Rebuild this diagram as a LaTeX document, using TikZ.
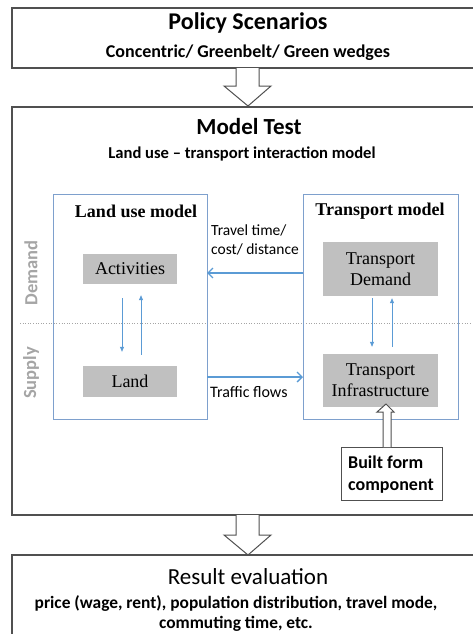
\documentclass[tikz,border=0pt]{standalone}
\usepackage{fontspec}
\setmainfont{Carlito}
\newfontfamily\tnr{Liberation Serif}
\usetikzlibrary{arrows.meta,calc}
\definecolor{boxline}{RGB}{80,80,80}
\definecolor{modelblue}{RGB}{126,160,205}
\definecolor{arrowblue}{RGB}{91,155,213}
\definecolor{graybox}{RGB}{192,192,192}
\definecolor{sidegray}{RGB}{165,165,165}
\tikzset{
  frame/.style={draw=boxline,line width=1.2pt},
  modelbox/.style={draw=modelblue,line width=1pt},
  greybox/.style={fill=graybox,draw=none,inner sep=0pt,align=center,font=\tnr\fontsize{18}{21}\selectfont},
  bigarr/.style={draw=arrowblue,line width=1.6pt,-{Straight Barb[length=5pt,width=10pt,line width=1.4pt]}},
  smallarr/.style={draw=arrowblue,line width=0.7pt,-{Triangle[length=5pt,width=4pt]}},
  hollow/.style={draw=boxline,fill=white,line width=1pt,line join=miter},
  txt/.style={inner sep=0pt,anchor=base},
}
\begin{document}
\begin{tikzpicture}[x=1pt,y=-1pt]
\useasboundingbox (0,0) rectangle (472,634);
% outer frames
\draw[frame] (12,8) rectangle (482,68);
\node[txt] (pt) at (248,30) {\fontsize{24}{28}\selectfont\bfseries Policy Scenarios};
\node[txt] (ps) at (248,57) {\fontsize{18}{21}\selectfont\bfseries Concentric/ Greenbelt/ Green wedges};

\draw[frame] (12,107) rectangle (482,515);
\node[txt] (mt) at (249,134) {\fontsize{23}{27}\selectfont\bfseries Model Test};
\node[txt] (ms) at (242,158) {\fontsize{16.6}{20}\selectfont\bfseries Land use -- transport interaction model};

\draw[frame] (12,555) rectangle (482,650);
\node[txt] (rt) at (248,584) {\fontsize{23}{27}\selectfont Result evaluation};
\node[txt] (r1) at (236,608) {\fontsize{17.4}{20}\selectfont\bfseries price (wage, rent), population distribution, travel mode,};
\node[txt] (r2) at (236,628) {\fontsize{17.4}{20}\selectfont\bfseries commuting time, etc.};

% block arrows
\draw[hollow] (236,68) -- (236,86) -- (224,86) -- (248,106) -- (271,86) -- (259,86) -- (259,68);
\draw[hollow] (236,515) -- (236,535) -- (224,535) -- (248,555) -- (271,535) -- (259,535) -- (259,515);

% dotted divider
\draw[sidegray,dotted,line width=0.6pt] (20,323) -- (472,323);

% side labels
\node[rotate=90,text=sidegray,font=\fontsize{18.5}{22}\selectfont\bfseries] (dem) at (31,273) {Demand};
\node[rotate=90,text=sidegray,font=\fontsize{18.5}{22}\selectfont\bfseries] (sup) at (31,373) {Supply};

% model boxes
\draw[modelbox] (53,194) rectangle (207,419);
\draw[modelbox] (303,194) rectangle (458,419);
\coordinate (lmE) at (207,273);
\coordinate (tmW) at (303,273);
\coordinate (lmE2) at (207,377);
\coordinate (tmW2) at (303,377);
\node[txt] (lmt) at (136,217) {\tnr\fontsize{18}{21}\selectfont\bfseries Land use model};
\node[txt] (tmt) at (380,215) {\tnr\fontsize{18}{21}\selectfont\bfseries Transport model};

\node[greybox,minimum width=94pt,minimum height=30pt] (act) at (130,269) {Activities};
\node[greybox,minimum width=94pt,minimum height=31pt] (land) at (130,381.5) {Land};
\node[greybox,minimum width=115pt,minimum height=54pt] (td) at (380.5,269) {Transport\\[0pt]Demand};
\node[greybox,minimum width=115pt,minimum height=53pt] (ti) at (380.5,380.5) {Transport\\[0pt]Infrastructure};

% internal arrows
\draw[smallarr] ([shift={(-8,14)}]act.south) -- ([shift={(-8,-14)}]land.north);
\draw[smallarr] ([shift={(11,-11)}]land.north) -- ([shift={(11,11)}]act.south);
\draw[smallarr] ([shift={(-8.5,2)}]td.south) -- ([shift={(-8.5,-7)}]ti.north);
\draw[smallarr] ([shift={(11.5,-7)}]ti.north) -- ([shift={(11.5,2)}]td.south);

% interaction arrows
\draw[bigarr] (tmW) -- (lmE);
\draw[bigarr] (lmE2) -- (tmW2);
\node[txt,anchor=base west] (tt1) at (211,235) {\fontsize{15.5}{18}\selectfont Travel time/};
\node[txt,anchor=base west] (tt2) at (211,254) {\fontsize{15.5}{18}\selectfont cost/ distance};
\node[txt,anchor=base west] (tf) at (210,397) {\fontsize{16}{19}\selectfont Traffic flows};

% built form
\node[draw=boxline,line width=1pt,minimum width=101pt,minimum height=53pt,inner sep=0pt] (bf) at (391.5,473.5) {};
\node[txt,anchor=base west,align=left] (bft1) at (348,468) {\fontsize{18}{21}\selectfont\bfseries Built form};
\node[txt,anchor=base west,align=left] (bft2) at (348,490) {\fontsize{18}{21}\selectfont\bfseries component};
\draw[hollow] (383,447) -- (383,412) -- (377,412) -- (386,404) -- (394,412) -- (391,412) -- (391,447);
\end{tikzpicture}
\end{document}
